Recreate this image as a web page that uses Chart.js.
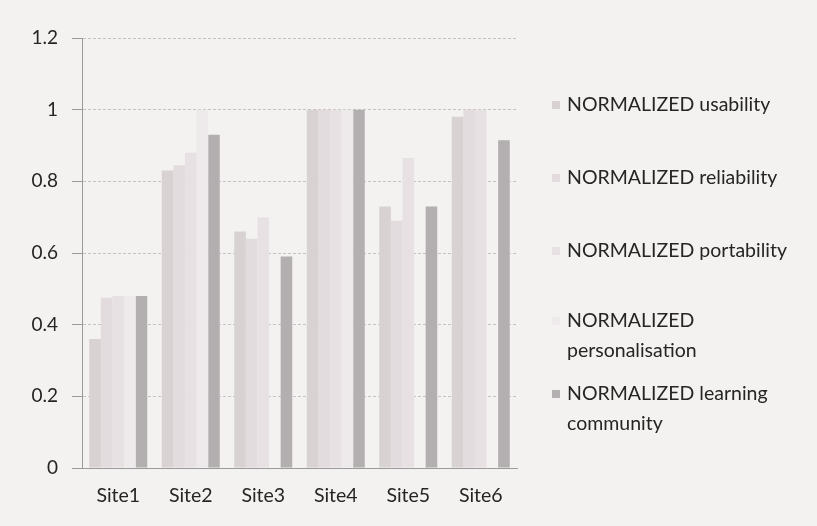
<!DOCTYPE html>
<html>
<head>
<meta charset="utf-8">
<script src="https://cdn.jsdelivr.net/npm/chart.js@4"></script>
<style>
  body { margin: 0; background: #f3f2f0; }
  .wrap { position: relative; width: 817px; height: 526px; }
  canvas { position: absolute; left: 0; top: 0; }
  .legend { position: absolute; left: 552px; top: 0; font-family: Lato, "Open Sans", sans-serif; font-size: 19.5px; color: #252525; }
  .item { position: absolute; left: 0; white-space: nowrap; line-height: 30px; }
  .item i { display: inline-block; width: 8px; height: 8px; margin-right: 7px; vertical-align: 2px; }
  .item span.pad { display: inline-block; width: 15px; }
</style>
</head>
<body>
<div class="wrap">
  <canvas id="chart" width="817" height="526"></canvas>
  <div class="legend" id="legend"></div>
</div>
<script>
// categories and series
const sites = ["Site1", "Site2", "Site3", "Site4", "Site5", "Site6"];
const usability = [0.36, 0.83, 0.66, 1.0, 0.73, 0.98];
const reliability = [0.475, 0.845, 0.64, 1.0, 0.69, 1.0];
const portability = [0.48, 0.88, 0.70, 1.0, 0.865, 1.0];
const personalisation = [0.48, 1.0, 0, 1.0, 0, 0];
const learningCommunity = [0.48, 0.93, 0.59, 1.0, 0.73, 0.915];
const yTicks = [0, 0.2, 0.4, 0.6, 0.8, 1, 1.2];

const seriesNames = ["NORMALIZED usability", "NORMALIZED reliability", "NORMALIZED portability",
  "NORMALIZED personalisation", "NORMALIZED learning community"];
const seriesColors = ["#d9d2d3", "#e3dcdf", "#e7e1e3", "#eeeaeb", "#b3aeb0"];
const seriesData = [usability, reliability, portability, personalisation, learningCommunity];

const ctx = document.getElementById("chart");

new Chart(ctx, {
  type: "bar",
  data: {
    labels: sites,
    datasets: seriesNames.map((name, i) => ({
      label: name,
      data: seriesData[i],
      backgroundColor: seriesColors[i],
      borderWidth: 0,
      categoryPercentage: 0.8,
      barPercentage: 1.0
    }))
  },
  options: {
    responsive: false,
    animation: false,
    layout: { padding: { left: 0, right: 300, top: 38, bottom: 0 } },
    plugins: { legend: { display: false }, tooltip: { enabled: false } },
    scales: {
      x: {
        grid: { display: false, drawTicks: false },
        border: { color: "#9a9a9a" },
        ticks: { padding: 16, color: "#252525", font: { family: "Lato", size: 19.5 } },
        afterFit: s => { s.height = 58; }
      },
      y: {
        min: 0,
        max: 1.2,
        afterBuildTicks: s => { s.ticks = yTicks.map(v => ({ value: v })); },
        grid: { color: "#c4c2c2", tickLength: 10, tickColor: "#9a9a9a" },
        border: { color: "#9a9a9a", dash: [3, 2] },
        ticks: {
          padding: 14,
          color: "#252525",
          font: { family: "Lato", size: 19 },
          callback: v => String(v)
        },
        afterFit: s => { s.width = 82; }
      }
    }
  }
});

// legend as text next to the chart
const legendRows = [
  { lines: ["NORMALIZED usability"], top: 89 },
  { lines: ["NORMALIZED reliability"], top: 162 },
  { lines: ["NORMALIZED portability"], top: 235 },
  { lines: ["NORMALIZED", "personalisation"], top: 305 },
  { lines: ["NORMALIZED learning", "community"], top: 378 }
];
const legend = document.getElementById("legend");
legendRows.forEach((row, i) => {
  const div = document.createElement("div");
  div.className = "item";
  div.style.top = row.top + "px";
  div.innerHTML = row.lines.map((t, j) =>
    (j === 0 ? '<i style="background:' + seriesColors[i] + '"></i>' : '<span class="pad"></span>') + t
  ).join("<br>");
  legend.appendChild(div);
});
</script>
</body>
</html>
